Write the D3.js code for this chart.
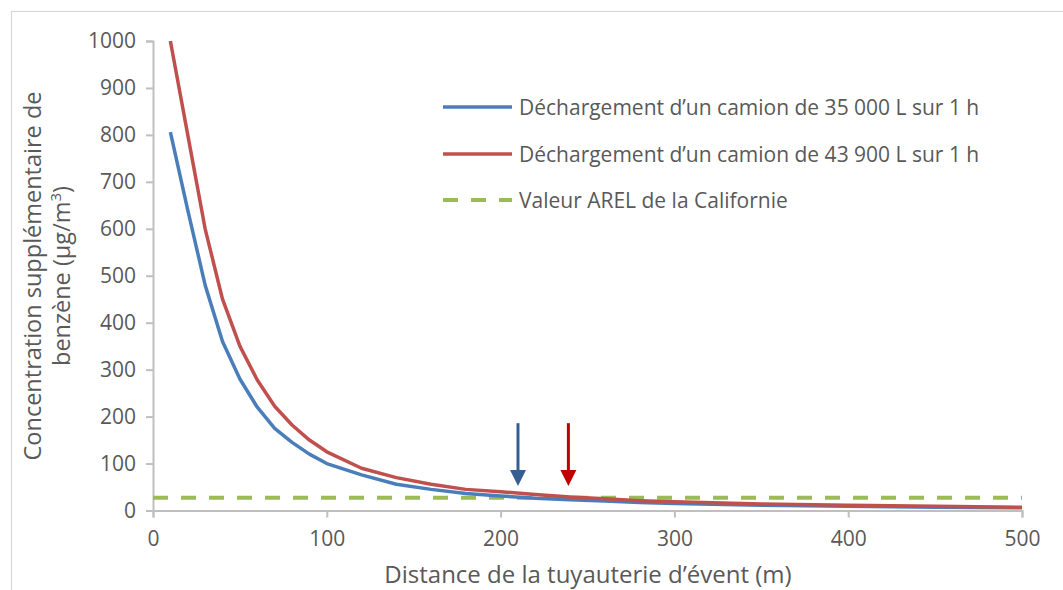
<!DOCTYPE html>
<html>
<head>
<meta charset="utf-8">
<script src="https://cdn.jsdelivr.net/npm/d3@7"></script>
<style>
  body { margin: 0; background: #fff; }
  text { font-family: "Open Sans", "DejaVu Sans", sans-serif; fill: #595959; }
</style>
</head>
<body>
<script>
	// data
	var distances = [10, 20, 30, 40, 50, 60, 70, 80, 90, 100, 120, 140, 160, 180, 200, 220, 240, 260, 280, 300, 350, 400, 450, 500];
	var camion35000 = [806, 640, 480, 360, 280, 220, 175, 145, 120, 100, 76, 56, 45, 36, 31, 26, 23, 20, 17, 15, 11, 9, 7, 6];
	var camion43900 = [1000, 800, 600, 450, 350, 278, 222, 182, 150, 125, 90, 70, 56, 45, 40, 34, 29, 25, 21, 18.5, 14, 11, 9, 7];
	var arelValue = 27;
	var xTicks = [0, 100, 200, 300, 400, 500];
	var yTicks = [0, 100, 200, 300, 400, 500, 600, 700, 800, 900, 1000];
	var seriesNames = [
		"Déchargement d’un camion de 35 000 L sur 1 h",
		"Déchargement d’un camion de 43 900 L sur 1 h",
		"Valeur AREL de la Californie"
	];
	// arrows marking where each curve meets the AREL value
	var arrowX = [210, 239];
	var arrowTop = 186, arrowTip = 52;

	var svg_w = 1063, svg_h = 590;
	var svg = d3.select("body").append("svg")
		.attr("width", svg_w)
		.attr("height", svg_h);

	// chart border
	svg.append("rect")
		.attr("x", 11.5).attr("y", 11.5)
		.attr("width", svg_w + 20).attr("height", svg_h + 20)
		.attr("fill", "none")
		.attr("stroke", "#d9d9d9")
		.attr("stroke-width", 1.2);

	var x = d3.scaleLinear().domain([0, 500]).range([153, 1022]);
	var y = d3.scaleLinear().domain([0, 1000]).range([510.5, 41]);

	// axes
	var yAxis = svg.append("g")
		.attr("transform", "translate(" + x(0) + ",0)")
		.call(d3.axisLeft(y).tickValues(yTicks).tickFormat(d3.format("d")).tickSize(7).tickPadding(10));
	var xAxis = svg.append("g")
		.attr("transform", "translate(0," + y(0) + ")")
		.call(d3.axisBottom(x).tickValues(xTicks).tickFormat(d3.format("d")).tickSize(7).tickPadding(14));

	[yAxis, xAxis].forEach(function(a) {
		a.selectAll("path, line").attr("stroke", "#bfbfbf").attr("stroke-width", 2);
		a.selectAll("text").attr("font-size", 21).attr("fill", "#595959")
			.style("font-family", "'Open Sans', sans-serif");
	});

	// AREL dashed line
	svg.append("line")
		.attr("x1", x(0)).attr("x2", x(500))
		.attr("y1", y(arelValue)).attr("y2", y(arelValue))
		.attr("stroke", "#9bbb59")
		.attr("stroke-width", 4)
		.attr("stroke-dasharray", "15,13");

	var line = d3.line()
		.x(function(d) { return x(d[0]); })
		.y(function(d) { return y(d[1]); });

	svg.append("path")
		.datum(d3.zip(distances, camion35000))
		.attr("d", line)
		.attr("fill", "none")
		.attr("stroke", "#4a7ebb")
		.attr("stroke-width", 3.5)
		.attr("stroke-linejoin", "round");

	svg.append("path")
		.datum(d3.zip(distances, camion43900))
		.attr("d", line)
		.attr("fill", "none")
		.attr("stroke", "#c0504d")
		.attr("stroke-width", 3.5)
		.attr("stroke-linejoin", "round");

	// arrows
	var arrowColors = ["#365f91", "#c00000"];
	arrowX.forEach(function(ax, i) {
		var cx = x(ax);
		svg.append("line")
			.attr("x1", cx).attr("x2", cx)
			.attr("y1", y(arrowTop)).attr("y2", y(arrowTip) - 12)
			.attr("stroke", arrowColors[i])
			.attr("stroke-width", 3);
		svg.append("path")
			.attr("d", "M" + (cx - 8) + "," + (y(arrowTip) - 16) + "L" + (cx + 8) + "," + (y(arrowTip) - 16) + "L" + cx + "," + y(arrowTip) + "Z")
			.attr("fill", arrowColors[i]);
	});

	// legend
	var legendY = [107, 154, 200];
	var legendColors = ["#4a7ebb", "#c0504d", "#9bbb59"];
	seriesNames.forEach(function(name, i) {
		var g = svg.append("g").attr("transform", "translate(0," + legendY[i] + ")");
		g.append("line")
			.attr("x1", 443).attr("x2", 512)
			.attr("stroke", legendColors[i])
			.attr("stroke-width", i == 2 ? 4 : 3.5)
			.attr("stroke-dasharray", i == 2 ? "15,13" : null);
		g.append("text")
			.attr("x", 519).attr("y", 7.5)
			.attr("font-size", 21)
			.text(name);
	});

	// axis titles
	svg.append("text")
		.attr("x", 588).attr("y", 583)
		.attr("text-anchor", "middle")
		.attr("font-size", 24)
		.text("Distance de la tuyauterie d’évent (m)");

	var yTitle = svg.append("text")
		.attr("transform", "translate(41,276) rotate(-90)")
		.attr("text-anchor", "middle")
		.attr("font-size", 23.5);
	yTitle.append("tspan").attr("x", 0).attr("y", 0).text("Concentration supplémentaire de");
	var t2 = yTitle.append("tspan").attr("x", 0).attr("y", 29).text("benzène (µg/m");
	t2.append("tspan").attr("font-size", 15).attr("dy", -9).text("3");
	t2.append("tspan").attr("dy", 9).text(")");
</script>
</body>
</html>
